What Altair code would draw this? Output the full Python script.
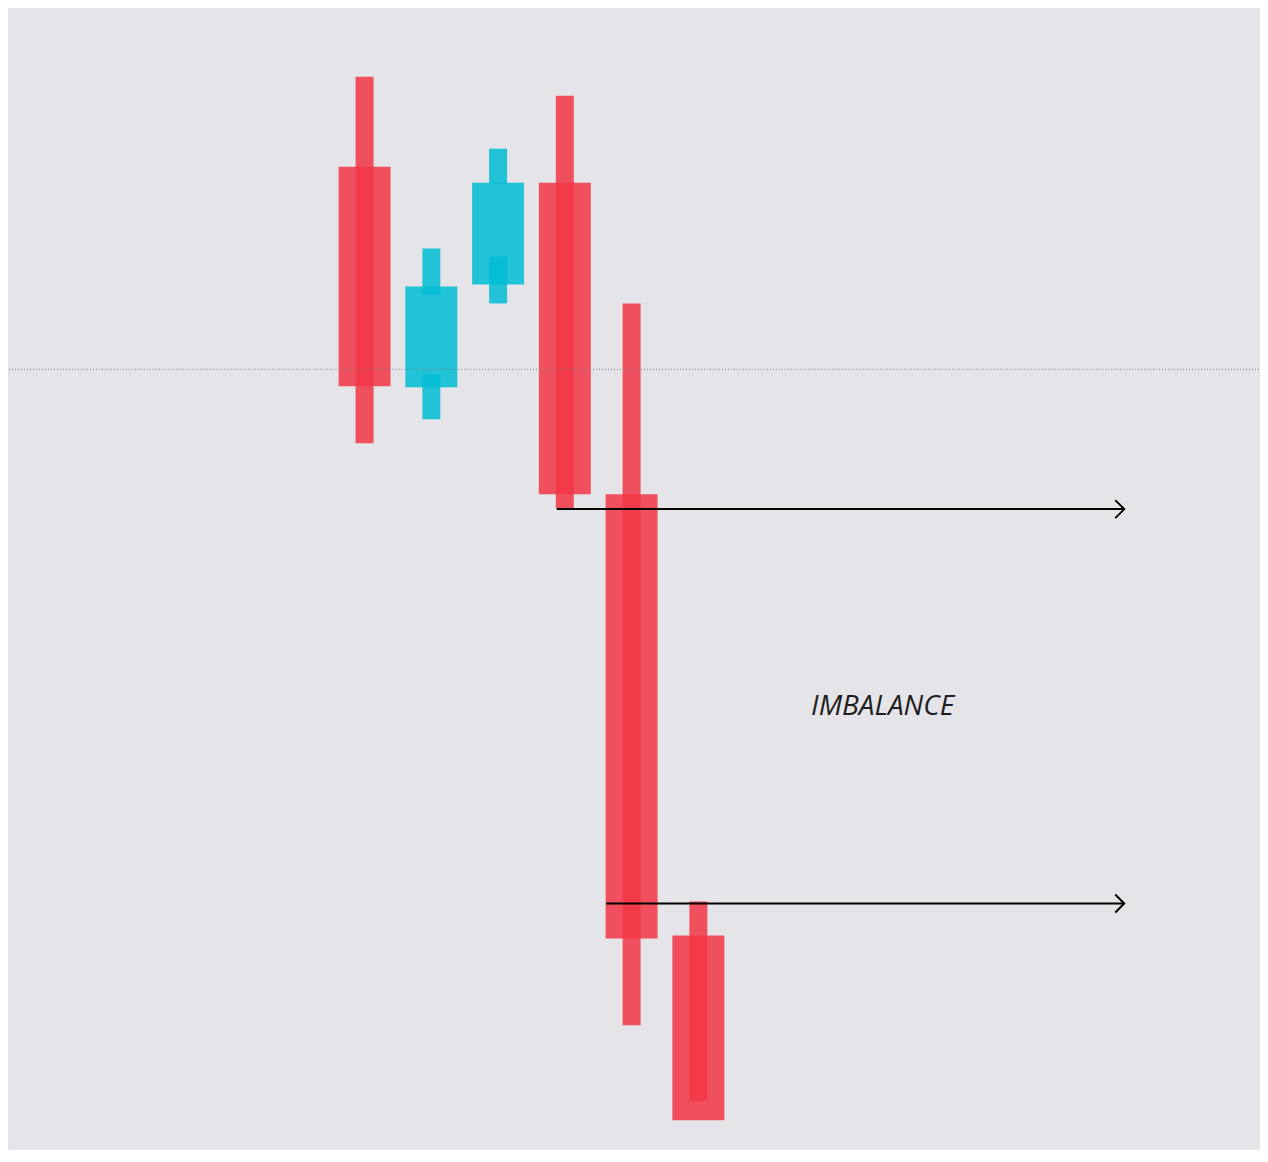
import altair as alt
import pandas as pd

# ---- data (prices in arbitrary units) ----
candle_idx = [0, 1, 2, 3, 4, 5]
opens = [99.6, 77.5, 87.8, 98.0, 66.8, 22.6]
closes = [77.6, 87.6, 98.0, 66.8, 22.3, 4.1]

# wick segments: candle index, top, bottom
wick_idx = [0, 1, 1, 2, 2, 3, 4, 5]
wick_top = [108.6, 91.4, 78.8, 101.4, 90.6, 106.7, 85.9, 26.0]
wick_bot = [71.9, 86.8, 74.3, 97.9, 85.9, 65.4, 13.6, 6.0]

level_price = [79.3]

arrow_start = [2.878, 3.62]
arrow_end = [11.38, 11.38]
arrow_price = [65.3, 25.8]

label_x = [7.76]
label_y = [45.5]
label_text = ["IMBALANCE"]

RED = "#F23645"
CYAN = "#00BCD4"
BG = "#e5e4e9"

X_DOMAIN = [-5.252, 13.324]
Y_DOMAIN = [1.2, 115.4]

bodies = pd.DataFrame({
    "i": candle_idx,
    "open": opens,
    "close": closes,
})
bodies["dir"] = ["up" if c > o else "down" for o, c in zip(opens, closes)]

wicks = pd.DataFrame({"i": wick_idx, "top": wick_top, "bot": wick_bot})
wicks["dir"] = [bodies.loc[k, "dir"] for k in wick_idx]

arrows = pd.DataFrame({"x": arrow_start, "x2": arrow_end, "y": arrow_price})
heads = pd.DataFrame({"x": arrow_end, "y": arrow_price})
level = pd.DataFrame({"y": level_price})
labels = pd.DataFrame({"x": label_x, "y": label_y, "t": label_text})

xs = alt.Scale(domain=X_DOMAIN, nice=False, zero=False)
ys = alt.Scale(domain=Y_DOMAIN, nice=False, zero=False)
color = alt.Color("dir:N", scale=alt.Scale(domain=["up", "down"], range=[CYAN, RED]), legend=None)

X = lambda f: alt.X(f, scale=xs, axis=None)
Y = lambda f: alt.Y(f, scale=ys, axis=None)

body_layer = alt.Chart(bodies).mark_bar(size=52, orient="vertical", opacity=0.85).encode(
    x=X("i:Q"), y=Y("open:Q"), y2="close:Q", color=color
)
wick_layer = alt.Chart(wicks).mark_bar(size=18, orient="vertical", opacity=0.85).encode(
    x=X("i:Q"), y=Y("top:Q"), y2="bot:Q", color=color
)
level_layer = alt.Chart(level).mark_rule(color="#787b86", strokeDash=[1, 2], strokeWidth=1).encode(
    y=Y("y:Q")
)
arrow_layer = alt.Chart(arrows).mark_rule(color="#000000", strokeWidth=2).encode(
    x=X("x:Q"), x2="x2:Q", y=Y("y:Q")
)
head_layer = alt.Chart(heads).mark_point(
    shape="M-1,-1L0,0L-1,1", size=324, filled=False, stroke="#000000", strokeWidth=2, opacity=1
).encode(x=X("x:Q"), y=Y("y:Q"))
text_layer = alt.Chart(labels).mark_text(
    font="Open Sans", fontStyle="italic", fontSize=28, color="#1e1e1e", align="center", baseline="middle"
).encode(x=X("x:Q"), y=Y("y:Q"), text="t:N")

chart = alt.layer(
    body_layer, wick_layer, level_layer, arrow_layer, head_layer, text_layer
).properties(
    width=1252, height=1142, background=BG, padding=0
).configure_view(stroke=None)

chart.save("out.html", embed_options={"renderer": "svg", "actions": False})
